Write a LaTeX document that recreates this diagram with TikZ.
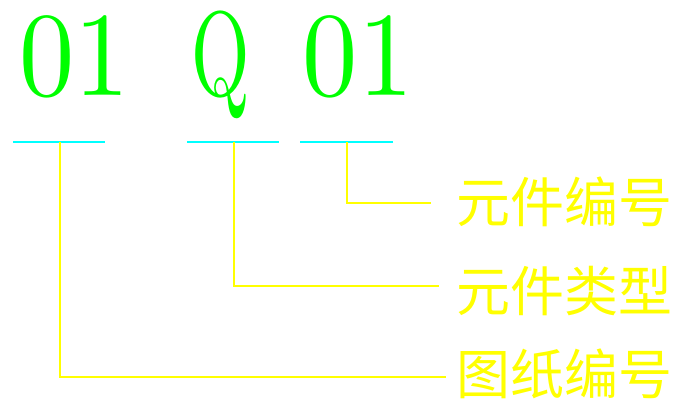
\documentclass[tikz,border=0pt]{standalone}
\usepackage{fontspec}
\newfontfamily\cjk{Noto Sans CJK SC}
\newfontfamily\codefont{lmroman10-regular.otf}
\definecolor{codegreen}{RGB}{0,255,0}
\definecolor{linecyan}{RGB}{0,255,255}
\definecolor{lineyellow}{RGB}{255,255,0}
\tikzset{
  code/.style={text=codegreen, anchor=base, inner sep=0pt, xscale=0.92, font=\codefont\fontsize{120}{120}\selectfont},
  label/.style={text=lineyellow, anchor=west, inner sep=0pt, font=\cjk\fontsize{54}{54}\selectfont},
  underline/.style={draw=linecyan, line width=2pt},
  leader/.style={draw=lineyellow, line width=2pt}
}
\begin{document}
\begin{tikzpicture}[x=1pt, y=-1pt]
				\useasboundingbox[fill=white] (0,0) rectangle (681,401);
				
				\node[code] (sheet) at (75,96) {01};
				\node[code, xscale=0.68] (type) at (221,96) {Q};
				\node[code] (item) at (358,96) {01};
				
				\draw[underline] (13,142) -- (105,142);
				\draw[underline] (187,142) -- (279,142);
				\draw[underline] (300,142) -- (393,142);
				\coordinate (u1) at (59.5,142);
				\coordinate (u2) at (234,142);
				\coordinate (u3) at (347,142);
				
				\node[label] (itemno) at (456,201.5) {元件编号};
				\node[label] (typeno) at (456,291.5) {元件类型};
				\node[label] (sheetno) at (456,373.5) {图纸编号};
				\coordinate (e1) at (431,203);
				\coordinate (e2) at (439,286);
				\coordinate (e3) at (446,377);
				
				\draw[leader] (u3) |- (e1);
				\draw[leader] (u2) |- (e2);
				\draw[leader] (u1) |- (e3);
\end{tikzpicture}
\end{document}
